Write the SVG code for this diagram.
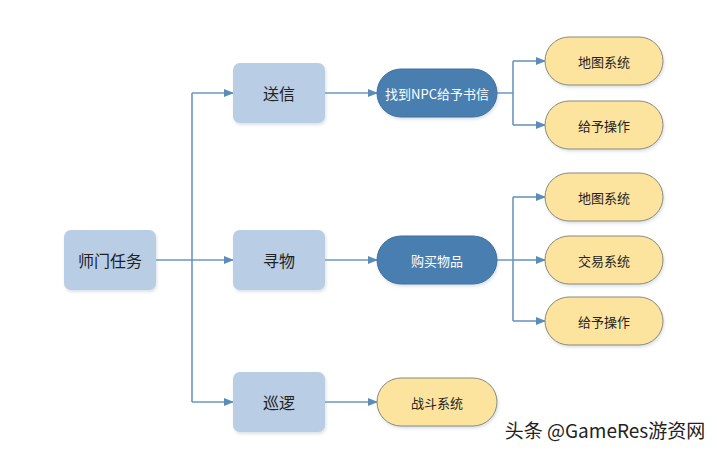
<svg xmlns="http://www.w3.org/2000/svg" width="717" height="452" viewBox="0 0 717 452">
<defs>
<marker id="ar" markerWidth="10" markerHeight="8" refX="9" refY="4" orient="auto" markerUnits="userSpaceOnUse"><path d="M0,0 L10,4 L0,8 z" fill="#5b8db8"/></marker>
<filter id="sh" x="-10%" y="-10%" width="130%" height="130%"><feDropShadow dx="1" dy="2" stdDeviation="1.5" flood-color="#9ab" flood-opacity="0.35"/></filter>
</defs>
<style>
text{font-family:"Noto Sans CJK SC","Liberation Sans",sans-serif;text-anchor:middle;dominant-baseline:central}
.b{fill:#b9cde5;filter:url(#sh)}
.d{fill:#4a7eb1;stroke:#3f6f9e;filter:url(#sh)}
.y{fill:#fde49e;stroke:#8a8a7a;stroke-width:1;filter:url(#sh)}
.c{stroke:#6a98bf;stroke-width:1.6;fill:none}
.t1{font-size:16px;fill:#222}
.t2{font-size:13px;fill:#fff}
.t3{font-size:13px;fill:#222}
</style>
<rect width="717" height="452" fill="#fff"/>
<g id="connectors">
<path class="c" d="M156,260 H192 M192,93 V402"/>
<path class="c" marker-end="url(#ar)" d="M192,93 H233"/>
<path class="c" marker-end="url(#ar)" d="M192,260 H233"/>
<path class="c" marker-end="url(#ar)" d="M192,402 H233"/>
<path class="c" marker-end="url(#ar)" d="M325,93 H377"/>
<path class="c" marker-end="url(#ar)" d="M325,260 H377"/>
<path class="c" marker-end="url(#ar)" d="M325,402 H377"/>
<path class="c" d="M497,93 H513 M513,61 V125 M497,260 H513 M513,197 V321"/>
<path class="c" marker-end="url(#ar)" d="M513,61 H545"/>
<path class="c" marker-end="url(#ar)" d="M513,125 H545"/>
<path class="c" marker-end="url(#ar)" d="M513,197 H545"/>
<path class="c" marker-end="url(#ar)" d="M513,260 H545"/>
<path class="c" marker-end="url(#ar)" d="M513,321 H545"/>
</g>
<g id="root"><rect class="b" x="64" y="230" width="92" height="60" rx="7"/><text class="t1" x="110" y="260">师门任务</text></g>
<g id="songxin"><rect class="b" x="233" y="63" width="92" height="60" rx="7"/><text class="t1" x="279" y="93">送信</text></g>
<g id="xunwu"><rect class="b" x="233" y="230" width="92" height="60" rx="7"/><text class="t1" x="279" y="260">寻物</text></g>
<g id="xunluo"><rect class="b" x="233" y="372" width="92" height="60" rx="7"/><text class="t1" x="279" y="402">巡逻</text></g>
<g id="npc"><rect class="d" x="377" y="69" width="120" height="48" rx="24"/><text class="t2" x="437" y="93">找到NPC给予书信</text></g>
<g id="buy"><rect class="d" x="377" y="236" width="120" height="48" rx="24"/><text class="t2" x="437" y="260">购买物品</text></g>
<g id="fight"><rect class="y" x="377" y="378" width="120" height="48" rx="24"/><text class="t3" x="437" y="402">战斗系统</text></g>
<g id="map1"><rect class="y" x="545" y="37" width="118" height="48" rx="24"/><text class="t3" x="604" y="61">地图系统</text></g>
<g id="give1"><rect class="y" x="545" y="101" width="118" height="48" rx="24"/><text class="t3" x="604" y="125">给予操作</text></g>
<g id="map2"><rect class="y" x="545" y="173" width="118" height="48" rx="24"/><text class="t3" x="604" y="197">地图系统</text></g>
<g id="trade"><rect class="y" x="545" y="236" width="118" height="48" rx="24"/><text class="t3" x="604" y="260">交易系统</text></g>
<g id="give2"><rect class="y" x="545" y="297" width="118" height="48" rx="24"/><text class="t3" x="604" y="321">给予操作</text></g>
<text x="605" y="429" style="font-size:19px;fill:#222">头条 @GameRes游资网</text>
</svg>
